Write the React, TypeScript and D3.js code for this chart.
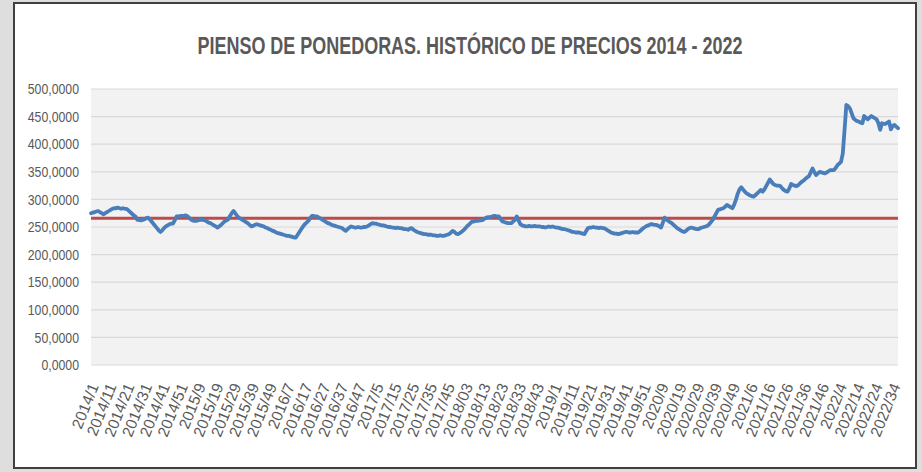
import React from "react";
import * as d3 from "d3";

// weekly feed price
const v2014 = [275, 276, 277, 278, 279, 277, 275, 273, 275, 277, 279, 281, 283, 284, 284, 285, 284, 283, 284, 283, 283, 280, 277, 274, 271, 269, 263, 263, 262, 263, 264, 266, 267, 264, 260, 256, 252, 248, 244, 241, 244, 248, 251, 253, 255, 256, 256, 262, 269, 269, 270, 270];
const v2015 = [270, 271, 270, 267, 264, 262, 261, 261, 262, 263, 263, 263, 262, 260, 258, 257, 255, 253, 251, 249, 251, 254, 257, 260, 262, 264, 270, 275, 279, 275, 270, 267, 265, 263, 261, 259, 257, 254, 251, 252, 254, 255, 254, 253, 252, 251, 249, 248, 246, 245, 243, 242];
const v2016 = [240, 239, 238, 237, 236, 235, 234, 234, 233, 232, 231, 231, 236, 241, 246, 251, 255, 258, 261, 266, 270, 270, 269, 269, 267, 265, 263, 261, 259, 257, 256, 254, 253, 252, 251, 250, 249, 248, 245, 243, 246, 249, 251, 250, 249, 249, 250, 249, 249, 250, 250, 251];
const v2017 = [253, 255, 257, 256, 256, 255, 254, 253, 253, 252, 251, 250, 250, 249, 249, 248, 249, 248, 248, 247, 246, 246, 245, 247, 248, 245, 243, 241, 240, 239, 238, 237, 237, 236, 236, 236, 235, 235, 234, 234, 235, 234, 234, 235, 236, 237, 240, 243, 241, 238, 237, 239];
const v2018 = [241, 244, 247, 251, 254, 257, 260, 260, 261, 261, 262, 262, 263, 265, 267, 268, 268, 269, 270, 270, 269, 269, 264, 260, 259, 258, 257, 257, 257, 260, 263, 269, 262, 255, 253, 252, 251, 251, 252, 251, 251, 252, 251, 251, 251, 250, 250, 249, 250, 251, 250, 251];
const v2019 = [250, 249, 249, 248, 247, 246, 246, 245, 244, 243, 241, 241, 240, 240, 240, 239, 238, 237, 243, 248, 249, 249, 250, 249, 249, 248, 249, 248, 248, 246, 244, 242, 240, 239, 238, 238, 237, 238, 239, 240, 241, 241, 240, 240, 241, 240, 240, 240, 242, 245, 248, 250];
const v2020 = [252, 253, 255, 255, 254, 254, 253, 251, 249, 258, 267, 264, 261, 259, 257, 254, 251, 248, 246, 244, 242, 241, 243, 246, 248, 249, 248, 247, 246, 246, 248, 249, 250, 251, 252, 255, 259, 263, 269, 275, 281, 282, 283, 284, 287, 290, 288, 286, 284, 290, 299, 310, 318];
const v2021 = [322, 318, 314, 311, 309, 307, 306, 305, 308, 311, 314, 317, 314, 318, 324, 330, 336, 332, 328, 326, 325, 325, 324, 320, 317, 315, 314, 320, 328, 326, 325, 324, 326, 329, 332, 334, 337, 340, 342, 349, 356, 350, 344, 347, 350, 349, 348, 347, 349, 351, 353, 353];
const v2022 = [353, 357, 362, 365, 368, 383, 426, 471, 469, 465, 456, 447, 444, 442, 441, 439, 438, 451, 448, 445, 448, 451, 449, 447, 445, 438, 426, 438, 437, 437, 439, 441, 427, 433, 435, 432, 429];

const years = [2014, 2015, 2016, 2017, 2018, 2019, 2020, 2021, 2022];
const seriesByYear = [v2014, v2015, v2016, v2017, v2018, v2019, v2020, v2021, v2022];
const mediaHistorica = 266;
const yTicks = [0, 50, 100, 150, 200, 250, 300, 350, 400, 450, 500];
const title = "PIENSO DE PONEDORAS. HISTÓRICO DE PRECIOS 2014 - 2022";

// categories "year/week" (2018 is written with two digits in the source sheet)
const categories: string[] = [];
const values: number[] = [];
seriesByYear.forEach((arr, k) => {
  arr.forEach((v, w) => {
    const wk = years[k] === 2018 ? String(w + 1).padStart(2, "0") : String(w + 1);
    categories.push(`${years[k]}/${wk}`);
    values.push(v);
  });
});

const W = 922;
const H = 472;
const plot = { left: 91, right: 898, top: 89, bottom: 365 };
const txt = "#595959";
const font = "'Liberation Sans', Arial, sans-serif";

const esFormat = d3.formatLocale({ decimal: ",", thousands: ".", grouping: [3], currency: ["", "€"] }).format(".4f");

export default function App() {
  const x = d3.scalePoint<string>().domain(categories).range([plot.left, plot.right]);
  const y = d3.scaleLinear().domain([0, 500]).range([plot.bottom, plot.top]);

  const line = d3
    .line<number>()
    .x((d, i) => x(categories[i]) as number)
    .y((d) => y(d));

  const labelled = categories.filter((c, i) => i % 10 === 0);

  return (
    <svg width={W} height={H} style={{ position: "absolute", left: 0, top: 0 }}>
      <rect x={0} y={0} width={W} height={H} fill="#dedede" />
      <rect x={14} y={3} width={902} height={465} fill="#ffffff" stroke="#404040" strokeWidth={2} />

      <text
        x={470}
        y={54}
        textAnchor="middle"
        fontFamily={font}
        fontWeight="bold"
        fontSize={23}
        fill={txt}
        textLength={545}
        lengthAdjust="spacingAndGlyphs"
      >
        {title}
      </text>

      <rect x={plot.left} y={plot.top} width={plot.right - plot.left} height={plot.bottom - plot.top} fill="#f2f2f2" />
      {yTicks.map((t) => (
        <g key={t}>
          <line x1={plot.left} x2={plot.right} y1={y(t)} y2={y(t)} stroke="#d9d9d9" strokeWidth={1.2} />
          <text
            transform={`translate(79,${y(t)}) scale(0.82,1)`}
            dy="0.35em"
            textAnchor="end"
            fontFamily={font}
            fontSize={15}
            fill={txt}
          >
            {esFormat(t)}
          </text>
        </g>
      ))}

      <line
        x1={plot.left}
        x2={plot.right}
        y1={y(mediaHistorica)}
        y2={y(mediaHistorica)}
        stroke="#be4b48"
        strokeWidth={3}
      />
      <path
        d={line(values) ?? ""}
        fill="none"
        stroke="#4a7ebb"
        strokeWidth={3.8}
        strokeLinejoin="round"
        strokeLinecap="round"
      />

      {labelled.map((c) => (
        <text
          key={c}
          transform={`translate(${(x(c) as number) + 3},384) rotate(-68)`}
          dy="0.35em"
          textAnchor="end"
          fontFamily={font}
          fontSize={15.5}
          fill={txt}
        >
          {c}
        </text>
      ))}
    </svg>
  );
}
